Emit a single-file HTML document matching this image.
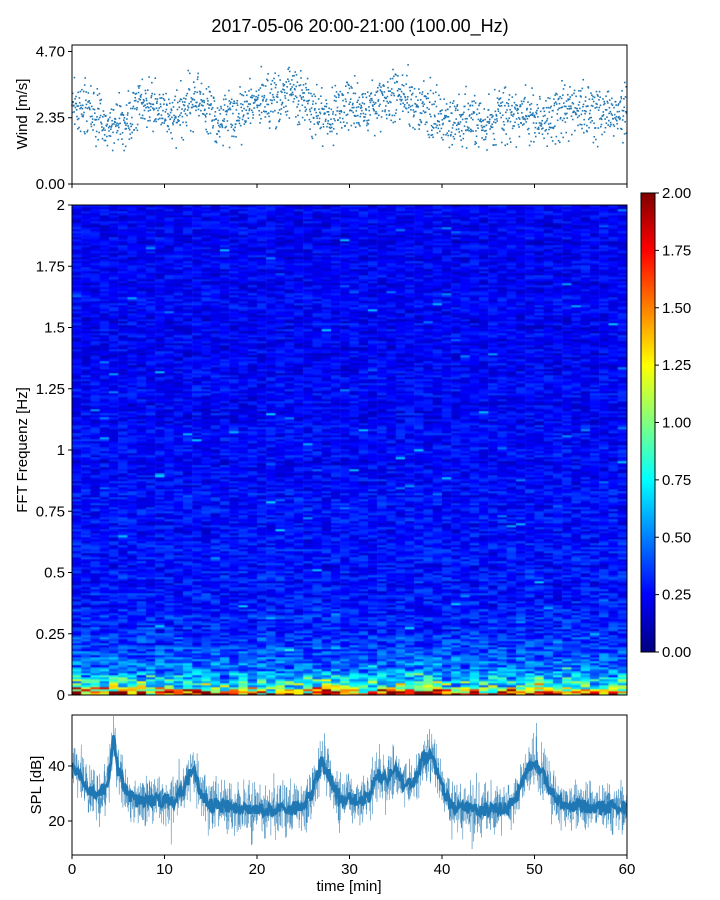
<!DOCTYPE html>
<html><head><meta charset="utf-8">
<style>
body{margin:0;background:#fff;}
#wrap{position:relative;width:720px;height:900px;font-family:"Liberation Sans","DejaVu Sans",sans-serif;}
svg{position:absolute;left:0;top:0;}
canvas{position:absolute;}
</style></head>
<body>
<div id="wrap">
<canvas id="spec" width="555" height="490" style="left:72px;top:205px"></canvas>
<svg id="svg" width="720" height="900"></svg>
</div>
<script>
// ---- data ----
const windMinutes = [0,1,2,3,4,5,6,7,8,9,10,11,12,13,14,15,16,17,18,19,20,21,22,23,24,25,26,27,28,29,30,31,32,33,34,35,36,37,38,39,40,41,42,43,44,45,46,47,48,49,50,51,52,53,54,55,56,57,58,59,60];
const windMean = [2.7,2.7,2.5,2.4,2.2,2.2,2.3,2.8,2.9,2.8,2.4,2.5,2.7,2.9,2.9,2.5,2.4,2.4,2.6,2.7,3.0,3.0,2.9,3.0,3.3,2.9,2.6,2.4,2.3,2.8,2.8,2.7,2.6,2.9,3.0,3.1,3.1,2.8,2.6,2.5,2.3,2.3,2.4,2.4,2.2,2.2,2.3,2.4,2.4,2.5,2.3,2.3,2.5,2.7,2.8,2.6,2.5,2.5,2.5,2.6,2.5];
const splMinutes = [0,1,2,3,4,4.5,5,6,7,9,11,12,13,14,15,18,21,25,26,27,28,29,32,33,34,35,36,37,38,39,40,41,44,47,48,49,50,51,52,53,56,60];
const splMean = [40,36,31,29,36,50,38,30,27,28,27,32,39,30,26,25,24,25,31,42,35,28,28,37,35,39,32,34,43,43,32,25,24,25,28,37,42,36,30,26,25,25];
const windTicks = [0,2.35,4.7];
const freqTicks = [0,0.25,0.5,0.75,1,1.25,1.5,1.75,2];
const freqLabels = ["0","0.25","0.5","0.75","1","1.25","1.5","1.75","2"];
const cbTicks = [0,0.25,0.5,0.75,1,1.25,1.5,1.75,2];
const splTicks = [20,40];
const timeTicks = [0,10,20,30,40,50,60];
// frequency profile of spectral amplitude (Hz -> mean level)
const profFreq = [0,0.015,0.03,0.05,0.08,0.12,0.2,0.3,0.5,1,2];
const profLevel = [1.7,1.35,0.95,0.7,0.6,0.45,0.37,0.31,0.28,0.25,0.23];

// ---- helpers ----
const NS="http://www.w3.org/2000/svg";
const svg=document.getElementById('svg');
function mk(tag,attrs,parent){const e=document.createElementNS(NS,tag);for(const k in attrs)e.setAttribute(k,attrs[k]);(parent||svg).appendChild(e);return e;}
function hash(i,j){let h=(i*374761393+j*668265263)^0x5bf03635;h=(h^(h>>>13))*1274126177;h=h^(h>>>16);return ((h>>>0)%100000)/100000;}
function interp(xs,ys,x){if(x<=xs[0])return ys[0];for(let k=1;k<xs.length;k++){if(x<=xs[k]){const t=(x-xs[k-1])/(xs[k]-xs[k-1]);return ys[k-1]+t*(ys[k]-ys[k-1]);}}return ys[ys.length-1];}
function jet(v){v=Math.max(0,Math.min(1,v));
 const r=Math.max(0,Math.min(1,1.5-Math.abs(4*v-3)));
 const g=Math.max(0,Math.min(1,1.5-Math.abs(4*v-2)));
 const b=Math.max(0,Math.min(1,1.5-Math.abs(4*v-1)));
 return [Math.round(r*255),Math.round(g*255),Math.round(b*255)];}
const X0=72,X1=627;
const xT=t=>X0+(t/60)*(X1-X0);
const yW=v=>184-v*28.2;
const yF=f=>695-f/2*490;
const yS=d=>821-(d-20)*2.75;
const yCB=v=>652-v/2*459;

function text(x,y,s,anchor,size,name,rot){const t=mk('text',{x:x,y:y,'text-anchor':anchor,'font-size':size,fill:'#000'});t.textContent=s;
 
 
 if(rot)t.setAttribute('transform','rotate(-90 '+x+' '+y+')');return t;}

// title
text(360,32,"2017-05-06 20:00-21:00 (100.00_Hz)","middle",18,"chart-title");

// ---- wind panel ----
const wind=mk('g',{});


for(let i=0;i<1800;i++){
 const t=i/1800*60;
 const n=(hash(i,7)+hash(i,11)+hash(i,13)-1.5)*0.95;
 const v=interp(windMinutes,windMean,t)+n;
 const p=mk('rect',{x:xT(t)-0.8,y:yW(v)-0.8,width:1.6,height:1.6,fill:'#1f77b4'},wind);
 
 
}
const wf=mk('rect',{x:72,y:45,width:555,height:139,fill:'none',stroke:'#000','stroke-width':1});


windTicks.forEach(v=>{mk('line',{x1:68,x2:72,y1:yW(v),y2:yW(v),stroke:'#000'});text(65,yW(v)+5,v.toFixed(2),"end",15,"wind-y-tick");});
timeTicks.forEach(t=>mk('line',{x1:xT(t),x2:xT(t),y1:184,y2:188,stroke:'#000'}));
text(27,114,"Wind [m/s]","middle",15,"wind-y-axis-title",true);

// ---- spectrogram ----
const ctx=document.getElementById('spec').getContext('2d');
const nCols=60,nRows=245,cw=555/nCols,rh=490/nRows;
for(let c=0;c<nCols;c++){
 const t=(c+0.5)/nCols*60;
 const act=(interp(splMinutes,splMean,t)-25)/20;
 for(let r=0;r<nRows;r++){
  const f=(r+0.5)/nRows*2;
  const base=interp(profFreq,profLevel,f);
  let v=base*(0.55+0.9*hash(c,r)+0.25*(hash(r,77)-0.5));
  if(f<0.08) v*=(0.75+0.5*hash(c,r+500))*(1+0.3*act);
  if(hash(c+1000,r)>0.993) v+=0.3;
  const [R,G,B]=jet(v/2);
  ctx.fillStyle='rgb('+R+','+G+','+B+')';
  ctx.fillRect(c*cw,490-(r+1)*rh,cw+0.6,rh+0.3);
 }
}
const sf=mk('rect',{x:72,y:205,width:555,height:490,fill:'none',stroke:'#000','stroke-width':1});


freqTicks.forEach((f,i)=>{mk('line',{x1:68,x2:72,y1:yF(f),y2:yF(f),stroke:'#000'});text(65,yF(f)+5,freqLabels[i],"end",15,"freq-y-tick");});
text(27,450,"FFT Frequenz [Hz]","middle",15,"freq-y-axis-title",true);

// ---- colorbar ----
const defs=mk('defs',{});
const lg=mk('linearGradient',{id:'jetg',x1:0,y1:1,x2:0,y2:0},defs);
for(let k=0;k<=16;k++){const [R,G,B]=jet(k/16);mk('stop',{offset:(k/16),'stop-color':'rgb('+R+','+G+','+B+')'},lg);}
const cb=mk('rect',{x:641,y:193,width:14,height:459,fill:'url(#jetg)',stroke:'#000','stroke-width':1});


cbTicks.forEach(v=>{mk('line',{x1:655,x2:659,y1:yCB(v),y2:yCB(v),stroke:'#000'});text(662,yCB(v)+5,v.toFixed(2),"start",15,"colorbar-tick");});

// ---- SPL panel ----
let pts=[];
for(let i=0;i<2400;i++){
 const t=i/2400*60;
 const n=(hash(i,21)+hash(i,23)-1)*11*(hash(i,29)>0.92?1.5:1);
 pts.push(xT(t).toFixed(2)+','+yS(interp(splMinutes,splMean,t)+n).toFixed(2));
}
const band=mk('polyline',{points:pts.join(' '),fill:'none',stroke:'#1f77b4','stroke-width':0.5,'stroke-opacity':0.7});


let pts2=[];
for(let i=0;i<600;i++){const t=i/600*60;pts2.push(xT(t).toFixed(2)+','+yS(interp(splMinutes,splMean,t)+(hash(i,41)-0.5)*5).toFixed(2));}
const line=mk('polyline',{points:pts2.join(' '),fill:'none',stroke:'#1f77b4','stroke-width':3});


const bf=mk('rect',{x:72,y:715,width:555,height:140,fill:'none',stroke:'#000','stroke-width':1});


splTicks.forEach(v=>{mk('line',{x1:68,x2:72,y1:yS(v),y2:yS(v),stroke:'#000'});text(65,yS(v)+5,String(v),"end",15,"spl-y-tick");});
timeTicks.forEach(t=>{mk('line',{x1:xT(t),x2:xT(t),y1:855,y2:859,stroke:'#000'});text(xT(t),874,String(t),"middle",15,"time-x-tick");});
text(41,785,"SPL [dB]","middle",15,"spl-y-axis-title",true);
text(349,891,"time [min]","middle",15,"x-axis-title");
</script>
</body></html>
